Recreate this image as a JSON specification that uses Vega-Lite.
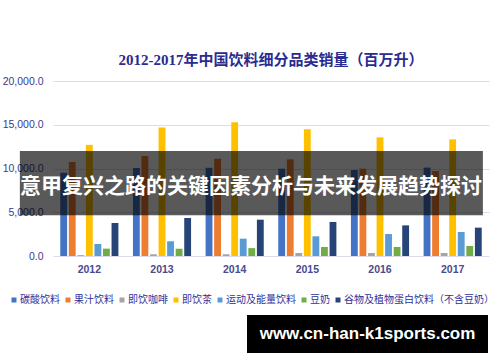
{
  "$schema": "https://vega.github.io/schema/vega-lite/v6.json",
  "background": "white",
  "padding": {"left": 2, "top": 53, "right": 0, "bottom": 0},
  "config": {"font": "Noto Sans CJK SC", "view": {"stroke": null}},
  "resolve": {"legend": {"color": "independent"}},
  "spacing": 10,
  "vconcat": [
    {
      "width": 436,
      "height": 175,
      "title": {
        "text": "2012-2017年中国饮料细分品类销量（百万升）",
        "font": "Liberation Serif, Noto Sans CJK SC",
        "fontSize": 15,
        "fontWeight": "bold",
        "color": "#2b2b90",
        "offset": 8
      },
      "resolve": {"scale": {"x": "independent"}, "axis": {"x": "independent"}},
      "layer": [
        {
          "data": {"values": [
            {"year": "2012", "cat": "碳酸饮料", "v": 9520},
            {"year": "2012", "cat": "果汁饮料", "v": 10740},
            {"year": "2012", "cat": "即饮咖啡", "v": 100},
            {"year": "2012", "cat": "即饮茶", "v": 12700},
            {"year": "2012", "cat": "运动及能量饮料", "v": 1370},
            {"year": "2012", "cat": "豆奶", "v": 840},
            {"year": "2012", "cat": "谷物及植物蛋白饮料（不含豆奶）", "v": 3770},
            {"year": "2013", "cat": "碳酸饮料", "v": 10060},
            {"year": "2013", "cat": "果汁饮料", "v": 11430},
            {"year": "2013", "cat": "即饮咖啡", "v": 200},
            {"year": "2013", "cat": "即饮茶", "v": 14700},
            {"year": "2013", "cat": "运动及能量饮料", "v": 1680},
            {"year": "2013", "cat": "豆奶", "v": 840},
            {"year": "2013", "cat": "谷物及植物蛋白饮料（不含豆奶）", "v": 4340},
            {"year": "2014", "cat": "碳酸饮料", "v": 10080},
            {"year": "2014", "cat": "果汁饮料", "v": 11120},
            {"year": "2014", "cat": "即饮咖啡", "v": 200},
            {"year": "2014", "cat": "即饮茶", "v": 15300},
            {"year": "2014", "cat": "运动及能量饮料", "v": 1980},
            {"year": "2014", "cat": "豆奶", "v": 900},
            {"year": "2014", "cat": "谷物及植物蛋白饮料（不含豆奶）", "v": 4150},
            {"year": "2015", "cat": "碳酸饮料", "v": 9980},
            {"year": "2015", "cat": "果汁饮料", "v": 11050},
            {"year": "2015", "cat": "即饮咖啡", "v": 340},
            {"year": "2015", "cat": "即饮茶", "v": 14500},
            {"year": "2015", "cat": "运动及能量饮料", "v": 2250},
            {"year": "2015", "cat": "豆奶", "v": 1030},
            {"year": "2015", "cat": "谷物及植物蛋白饮料（不含豆奶）", "v": 3890},
            {"year": "2016", "cat": "碳酸饮料", "v": 9830},
            {"year": "2016", "cat": "果汁饮料", "v": 9980},
            {"year": "2016", "cat": "即饮咖啡", "v": 340},
            {"year": "2016", "cat": "即饮茶", "v": 13560},
            {"year": "2016", "cat": "运动及能量饮料", "v": 2510},
            {"year": "2016", "cat": "豆奶", "v": 1030},
            {"year": "2016", "cat": "谷物及植物蛋白饮料（不含豆奶）", "v": 3500},
            {"year": "2017", "cat": "碳酸饮料", "v": 10100},
            {"year": "2017", "cat": "果汁饮料", "v": 9710},
            {"year": "2017", "cat": "即饮咖啡", "v": 340},
            {"year": "2017", "cat": "即饮茶", "v": 13330},
            {"year": "2017", "cat": "运动及能量饮料", "v": 2740},
            {"year": "2017", "cat": "豆奶", "v": 1140},
            {"year": "2017", "cat": "谷物及植物蛋白饮料（不含豆奶）", "v": 3240}
          ]},
          "mark": {"type": "bar"},
          "encoding": {
            "x": {
              "field": "year", "type": "nominal", "title": null,
              "scale": {"paddingInner": 0.2, "paddingOuter": 0.1},
              "axis": {"labelAngle": 0, "ticks": false, "domain": false, "labelPadding": 8,
                       "labelColor": "#4a4a8c", "labelFontSize": 10.5, "labelFontWeight": "bold",
                       "labelFont": "Liberation Sans"}
            },
            "xOffset": {
              "field": "cat", "type": "nominal",
              "sort": ["碳酸饮料", "果汁饮料", "即饮咖啡", "即饮茶", "运动及能量饮料", "豆奶", "谷物及植物蛋白饮料（不含豆奶）"],
              "scale": {"paddingInner": 0.2}
            },
            "y": {
              "field": "v", "type": "quantitative", "title": null,
              "scale": {"domain": [0, 20000], "nice": false},
              "axis": {"values": [0, 5000, 10000, 15000, 20000], "format": ",.1f", "ticks": false, "domain": false,
                       "labelPadding": 10, "labelColor": "#3a3a8c", "labelFontSize": 10.5,
                       "labelFont": "Liberation Sans", "gridColor": "#dcdcee", "gridWidth": 1}
            },
            "color": {
              "field": "cat", "type": "nominal",
              "sort": ["碳酸饮料", "果汁饮料", "即饮咖啡", "即饮茶", "运动及能量饮料", "豆奶", "谷物及植物蛋白饮料（不含豆奶）"],
              "scale": {
                "domain": ["碳酸饮料", "果汁饮料", "即饮咖啡", "即饮茶", "运动及能量饮料", "豆奶", "谷物及植物蛋白饮料（不含豆奶）"],
                "range": ["#4472C4", "#ED7D31", "#A5A5A5", "#FFC000", "#5B9BD5", "#70AD47", "#264478"]
              },
              "legend": {
                "title": null, "orient": "none", "legendX": -44, "legendY": 214, "padding": 0,
                "direction": "horizontal", "columns": 7, "symbolType": "square", "symbolSize": 25,
                "symbolStrokeWidth": 0, "labelFontSize": 10, "labelColor": "#30309a",
                "labelOffset": 1, "columnPadding": 3
              }
            }
          }
        },
        {
          "data": {"values": [{"banner": "意甲复兴之路的关键因素分析与未来发展趋势探讨"}]},
          "mark": {"type": "rect", "color": "black", "opacity": 0.65},
          "encoding": {
            "x": {"datum": -0.076, "type": "quantitative", "scale": {"domain": [0, 1], "nice": false, "zero": false, "clamp": false}, "axis": null},
            "x2": {"datum": 0.986},
            "y": {"datum": 12000, "type": "quantitative", "title": null, "scale": {"domain": [0, 20000], "nice": false}},
            "y2": {"datum": 4650}
          }
        },
        {
          "data": {"values": [{"banner": "意甲复兴之路的关键因素分析与未来发展趋势探讨"}]},
          "mark": {"type": "text", "color": "white", "fontSize": 21, "fontWeight": "bold",
                   "font": "Noto Sans CJK SC", "baseline": "middle", "align": "center"},
          "encoding": {
            "x": {"datum": 0.454, "type": "quantitative", "scale": {"domain": [0, 1], "nice": false, "zero": false, "clamp": false}, "axis": null},
            "y": {"datum": 7900, "type": "quantitative", "title": null, "scale": {"domain": [0, 20000], "nice": false}},
            "text": {"field": "banner"}
          }
        }
      ]
    },
    {
      "spacing": 10,
      "hconcat": [
        {
          "width": 184,
          "height": 38,
          "data": {"values": [{"t": ""}]},
          "mark": {"type": "text"},
          "encoding": {"text": {"field": "t"}}
        },
        {
          "width": 241,
          "height": 38,
          "view": {"fill": "black", "stroke": null},
          "data": {"values": [{"t": "www.cn-han-k1sports.com"}]},
          "mark": {"type": "text", "color": "white", "fontSize": 17, "fontWeight": "bold",
                   "font": "Liberation Sans", "baseline": "middle", "align": "center"},
          "encoding": {"text": {"field": "t"}}
        }
      ]
    }
  ]
}
